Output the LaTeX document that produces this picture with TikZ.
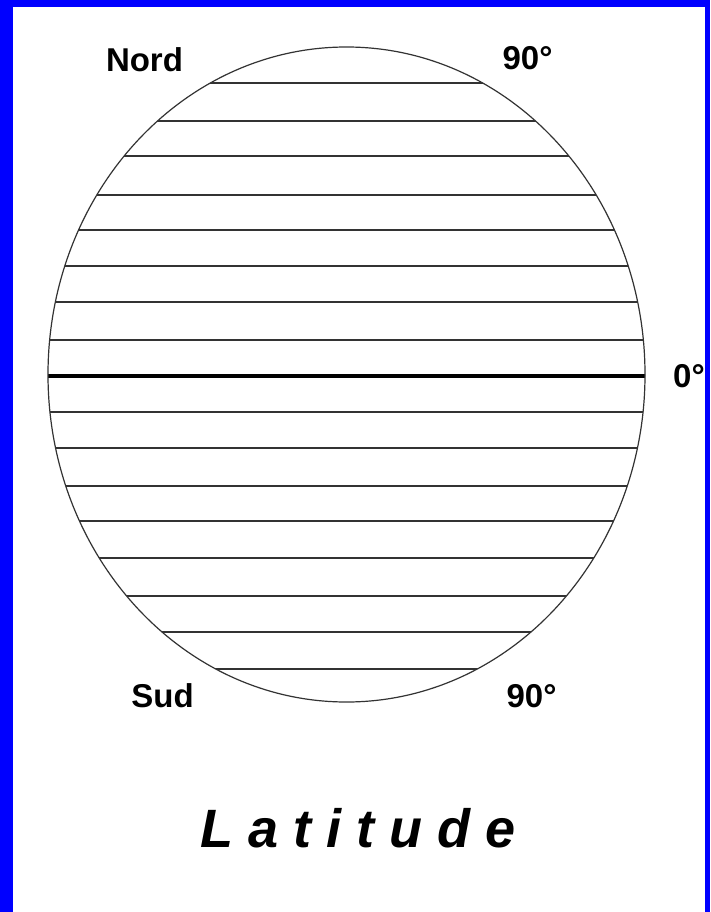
\documentclass[tikz,border=0pt]{standalone}
\usepackage{fontspec}
\setmainfont{Liberation Sans}
\newfontfamily\latfont[LetterSpace=28]{Liberation Sans}
\begin{document}
\begin{tikzpicture}[x=1pt,y=-1pt,
  lbl/.style={font=\fontsize{33}{36}\selectfont\bfseries, inner sep=0pt, anchor=base},
  parallel/.style={draw=black!80, line width=1.5pt},
  equator/.style={draw=black, line width=4pt},
  globe/.style={draw=black!80, line width=1.2pt}]
\useasboundingbox (0,0) rectangle (710,912);
\fill[blue] (0,0) rectangle (710,912);
\fill[white] (12.5,7.5) rectangle (705,912);
\coordinate (c) at (346.5,374.5);
\begin{scope}
  \clip (c) ellipse [x radius=298.5, y radius=327.5];
  \foreach \y in {83,121,156,195,230,266,302,340,412,448,486,521,558,596,632,669}
    \draw[parallel] (0,\y) -- (710,\y);
  \draw[equator] (0,376) -- (710,376);
\end{scope}
\draw[globe] (c) ellipse [x radius=298.5, y radius=327.5];
\node[lbl] (nord) at (144.5,72) {Nord};
\node[lbl] (n90) at (527.5,70) {90°};
\node[lbl] (zero) at (689,387) {0°};
\node[lbl] (sud) at (162.5,707) {Sud};
\node[lbl] (s90) at (531.5,707) {90°};
\node[inner sep=0pt, anchor=base west, font=\fontsize{54}{60}\latfont\bfseries\itshape] (title) at (200,847) {Latitude};
\end{tikzpicture}
\end{document}
